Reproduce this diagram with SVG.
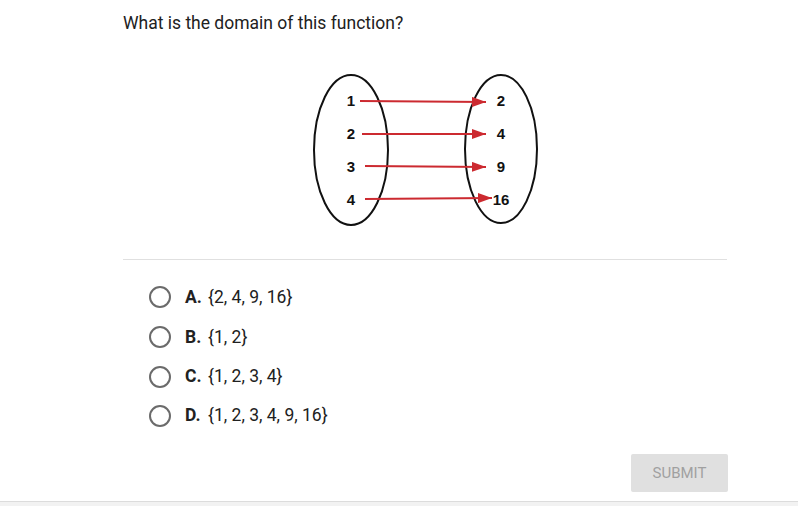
<svg xmlns="http://www.w3.org/2000/svg" width="798" height="506" viewBox="0 0 798 506">
<defs>
<marker id="ah" markerWidth="14" markerHeight="10" refX="14" refY="5" orient="auto" markerUnits="userSpaceOnUse">
<path d="M0,0 L14,5 L0,10 Z" fill="#cc2a30"/>
</marker>
</defs>
<style>
.t{font-family:Roboto,"Liberation Sans",sans-serif;fill:#212121}
.n{font-family:"Liberation Sans",Arial,sans-serif;font-weight:bold;font-size:15px;fill:#111;text-anchor:middle}
.ell{fill:none;stroke:#111;stroke-width:2}
.arr{stroke:#cc2a30;stroke-width:1.8;fill:none;marker-end:url(#ah)}
.rb{fill:#fff;stroke:#6b6b6b;stroke-width:2}
.opt{font-family:Roboto,"Liberation Sans",sans-serif;font-size:17.5px;fill:#212121}
.lb{font-weight:bold}
</style>
<rect width="798" height="506" fill="#fff"/>
<text class="t" x="123" y="29" font-size="17.5">What is the domain of this function?</text>
<g id="domain">
<ellipse class="ell" cx="351" cy="150" rx="37" ry="75"/>
<text class="n" x="351" y="106">1</text>
<text class="n" x="351" y="139">2</text>
<text class="n" x="351" y="172">3</text>
<text class="n" x="351" y="205">4</text>
</g>
<g id="range">
<ellipse class="ell" cx="501" cy="149" rx="36" ry="74"/>
<text class="n" x="501" y="106">2</text>
<text class="n" x="501" y="139">4</text>
<text class="n" x="501" y="172">9</text>
<text class="n" x="501" y="205">16</text>
</g>
<g id="connectors">
<line class="arr" x1="360" y1="101" x2="486" y2="102"/>
<line class="arr" x1="362" y1="134" x2="486" y2="134"/>
<line class="arr" x1="365" y1="166" x2="486" y2="167"/>
<line class="arr" x1="365" y1="199" x2="492" y2="198"/>
</g>
<line x1="123" y1="259.5" x2="727" y2="259.5" stroke="#e0e0e0" stroke-width="1"/>
<g id="optA"><circle class="rb" cx="160" cy="297" r="10"/><text class="opt lb" x="185" y="303">A.</text><text class="opt" x="208" y="303">{2, 4, 9, 16}</text></g>
<g id="optB"><circle class="rb" cx="160" cy="337" r="10"/><text class="opt lb" x="185" y="343">B.</text><text class="opt" x="208" y="343">{1, 2}</text></g>
<g id="optC"><circle class="rb" cx="160" cy="377" r="10"/><text class="opt lb" x="185" y="382">C.</text><text class="opt" x="208" y="382">{1, 2, 3, 4}</text></g>
<g id="optD"><circle class="rb" cx="160" cy="416" r="10"/><text class="opt lb" x="185" y="421">D.</text><text class="opt" x="208" y="421">{1, 2, 3, 4, 9, 16}</text></g>
<g id="submit">
<rect x="631" y="454" width="97" height="38" rx="2" fill="#e0e0e0"/>
<text x="679.5" y="478" font-family="Roboto,'Liberation Sans',sans-serif" font-size="15" fill="#a0a0a0" text-anchor="middle">SUBMIT</text>
</g>
<rect x="0" y="501" width="798" height="5" fill="#f2f2f2"/>
<line x1="0" y1="501.5" x2="798" y2="501.5" stroke="#dcdcdc"/>
</svg>
